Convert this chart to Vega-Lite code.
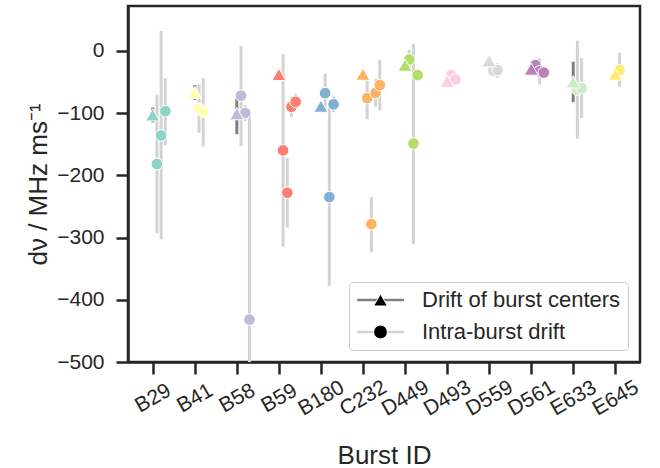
{
  "$schema": "https://vega.github.io/schema/vega-lite/v6.json",
  "width": 512,
  "height": 356,
  "autosize": {"type": "none"},
  "padding": {"left": 128, "top": 6, "right": 20, "bottom": 106},
  "background": "white",
  "config": {
    "font": "Liberation Sans",
    "view": {"stroke": "#262626", "strokeWidth": 2.5},
    "axis": {
      "domainColor": "#262626", "domainWidth": 2.5,
      "tickColor": "#262626", "tickWidth": 2.5, "tickSize": 12,
      "labelColor": "#262626", "labelFontSize": 21, "labelFont": "Liberation Sans",
      "titleColor": "#262626", "titleFontSize": 26, "titleFontWeight": "normal", "titleFont": "Liberation Sans",
      "grid": false
    }
  },
  "data": {"values": [
    {"burst": "B29", "type": "Drift of burst centers", "value": -103, "lo": -115, "hi": -91, "dodge": 0},
    {"burst": "B29", "type": "Intra-burst drift", "value": -182, "lo": -293, "hi": -71, "dodge": 0.1},
    {"burst": "B29", "type": "Intra-burst drift", "value": -136, "lo": -303, "hi": 32, "dodge": 0.2},
    {"burst": "B29", "type": "Intra-burst drift", "value": -97, "lo": -152, "hi": -44, "dodge": 0.3},
    {"burst": "B41", "type": "Drift of burst centers", "value": -67, "lo": -79, "hi": -55, "dodge": 0},
    {"burst": "B41", "type": "Intra-burst drift", "value": -93, "lo": -132, "hi": -54, "dodge": 0.1},
    {"burst": "B41", "type": "Intra-burst drift", "value": -98, "lo": -154, "hi": -44, "dodge": 0.2},
    {"burst": "B58", "type": "Drift of burst centers", "value": -101, "lo": -134, "hi": -68, "dodge": 0},
    {"burst": "B58", "type": "Intra-burst drift", "value": -72, "lo": -153, "hi": 8, "dodge": 0.1},
    {"burst": "B58", "type": "Intra-burst drift", "value": -100, "lo": -113, "hi": -87, "dodge": 0.2},
    {"burst": "B58", "type": "Intra-burst drift", "value": -432, "lo": -762, "hi": -102, "dodge": 0.3},
    {"burst": "B59", "type": "Drift of burst centers", "value": -38, "lo": -44, "hi": -32, "dodge": 0},
    {"burst": "B59", "type": "Intra-burst drift", "value": -160, "lo": -315, "hi": -5, "dodge": 0.1},
    {"burst": "B59", "type": "Intra-burst drift", "value": -228, "lo": -284, "hi": -172, "dodge": 0.2},
    {"burst": "B59", "type": "Intra-burst drift", "value": -90, "lo": -106, "hi": -74, "dodge": 0.3},
    {"burst": "B59", "type": "Intra-burst drift", "value": -82, "lo": -95, "hi": -69, "dodge": 0.4},
    {"burst": "B180", "type": "Drift of burst centers", "value": -89, "lo": -95, "hi": -83, "dodge": 0},
    {"burst": "B180", "type": "Intra-burst drift", "value": -68, "lo": -100, "hi": -37, "dodge": 0.1},
    {"burst": "B180", "type": "Intra-burst drift", "value": -235, "lo": -378, "hi": -92, "dodge": 0.2},
    {"burst": "B180", "type": "Intra-burst drift", "value": -86, "lo": -99, "hi": -73, "dodge": 0.3},
    {"burst": "C232", "type": "Drift of burst centers", "value": -37.5, "lo": -43.5, "hi": -31.5, "dodge": 0},
    {"burst": "C232", "type": "Intra-burst drift", "value": -76, "lo": -110, "hi": -46, "dodge": 0.1},
    {"burst": "C232", "type": "Intra-burst drift", "value": -278.5, "lo": -323, "hi": -235, "dodge": 0.2},
    {"burst": "C232", "type": "Intra-burst drift", "value": -67.5, "lo": -90, "hi": -45, "dodge": 0.3},
    {"burst": "C232", "type": "Intra-burst drift", "value": -55, "lo": -96, "hi": -15, "dodge": 0.4},
    {"burst": "D449", "type": "Drift of burst centers", "value": -23, "lo": -29, "hi": -17, "dodge": 0},
    {"burst": "D449", "type": "Intra-burst drift", "value": -14, "lo": -30, "hi": 2, "dodge": 0.1},
    {"burst": "D449", "type": "Intra-burst drift", "value": -149, "lo": -310, "hi": 11, "dodge": 0.2},
    {"burst": "D449", "type": "Intra-burst drift", "value": -39, "lo": -49, "hi": -29, "dodge": 0.3},
    {"burst": "D493", "type": "Drift of burst centers", "value": -48.7, "lo": -54.7, "hi": -42.7, "dodge": 0},
    {"burst": "D493", "type": "Intra-burst drift", "value": -39, "lo": -47, "hi": -31, "dodge": 0.1},
    {"burst": "D493", "type": "Intra-burst drift", "value": -46, "lo": -52, "hi": -40, "dodge": 0.2},
    {"burst": "D559", "type": "Drift of burst centers", "value": -16, "lo": -22, "hi": -10, "dodge": 0},
    {"burst": "D559", "type": "Intra-burst drift", "value": -32, "lo": -38, "hi": -26, "dodge": 0.1},
    {"burst": "D559", "type": "Intra-burst drift", "value": -31, "lo": -43, "hi": -20, "dodge": 0.2},
    {"burst": "D561", "type": "Drift of burst centers", "value": -29.4, "lo": -35, "hi": -24, "dodge": 0},
    {"burst": "D561", "type": "Intra-burst drift", "value": -23, "lo": -29, "hi": -17, "dodge": 0.1},
    {"burst": "D561", "type": "Intra-burst drift", "value": -33, "lo": -54, "hi": -12, "dodge": 0.2},
    {"burst": "D561", "type": "Intra-burst drift", "value": -35, "lo": -41, "hi": -29, "dodge": 0.3},
    {"burst": "E633", "type": "Drift of burst centers", "value": -50, "lo": -82.5, "hi": -17.5, "dodge": 0},
    {"burst": "E633", "type": "Intra-burst drift", "value": -62.6, "lo": -141, "hi": 16, "dodge": 0.1},
    {"burst": "E633", "type": "Intra-burst drift", "value": -60, "lo": -108, "hi": -12, "dodge": 0.2},
    {"burst": "E645", "type": "Drift of burst centers", "value": -37.5, "lo": -43.5, "hi": -31.5, "dodge": 0},
    {"burst": "E645", "type": "Intra-burst drift", "value": -31, "lo": -58, "hi": -3, "dodge": 0.1}
  ]},
  "encoding": {
    "x": {
      "field": "burst", "type": "nominal",
      "sort": ["B29", "B41", "B58", "B59", "B180", "C232", "D449", "D493", "D559", "D561", "E633", "E645"],
      "scale": {"type": "point", "padding": 0.588},
      "axis": {
        "title": "Burst ID", "labelAngle": -30, "labelAlign": "center", "labelBaseline": "middle",
        "labelPadding": 24, "titleBaseline": "alphabetic", "titleY": 101
      }
    },
    "xOffset": {"field": "dodge", "type": "quantitative", "scale": {"domain": [0, 1], "range": [0, 42.05]}}
  },
  "layer": [
    {
      "mark": {"type": "rule", "strokeWidth": 3, "clip": true},
      "encoding": {
        "y": {
          "field": "lo", "type": "quantitative",
          "scale": {"domain": [-500, 72], "nice": false, "zero": false},
          "axis": {"title": "dν / MHz ms⁻¹", "values": [-500, -400, -300, -200, -100, 0], "labelPadding": 12, "titleBaseline": "alphabetic", "titleX": -82}
        },
        "y2": {"field": "hi"},
        "stroke": {
          "field": "type", "type": "nominal",
          "scale": {"domain": ["Drift of burst centers", "Intra-burst drift"], "range": ["#808080", "#d3d3d3"]},
          "legend": {
            "orient": "none", "legendX": 221, "legendY": 276, "title": null,
            "symbolType": "M-3.4,0H3.4", "symbolSize": 190, "symbolStrokeWidth": 2.5, "symbolFillColor": "transparent",
            "labelFontSize": 22, "labelColor": "#262626", "labelOffset": 30.5, "symbolOffset": 13.5,
            "padding": 7, "rowPadding": 10, "labelLimit": 400,
            "fillColor": "rgba(255,255,255,0.8)", "strokeColor": "#cccccc", "cornerRadius": 4
          }
        }
      }
    },
    {
      "transform": [{"filter": "datum.type == 'Intra-burst drift'"}],
      "mark": {"type": "point", "filled": true, "size": 135, "stroke": "white", "strokeWidth": 1, "opacity": 1},
      "encoding": {
        "y": {
          "field": "value", "type": "quantitative",
          "scale": {"domain": [-500, 72], "nice": false, "zero": false},
          "axis": {"title": "dν / MHz ms⁻¹", "values": [-500, -400, -300, -200, -100, 0], "labelPadding": 12, "titleBaseline": "alphabetic", "titleX": -82}
        },
        "fill": {
          "field": "burst", "type": "nominal",
          "scale": {"domain": ["B29", "B41", "B58", "B59", "B180", "C232", "D449", "D493", "D559", "D561", "E633", "E645"],
                    "range": ["#8dd3c7", "#ffffb3", "#bebada", "#fb8072", "#80b1d3", "#fdb462", "#b3de69", "#fccde5", "#d9d9d9", "#bc80bd", "#ccebc5", "#ffed6f"]},
          "legend": null
        },
        "shape": {
          "field": "type", "type": "nominal",
          "scale": {"range": ["triangle-up", "circle"]},
          "legend": {
            "orient": "none", "legendX": 221, "legendY": 276, "title": null,
            "symbolSize": 190, "symbolFillColor": "black", "symbolStrokeColor": "white", "symbolStrokeWidth": 1,
            "labelFontSize": 22, "labelColor": "transparent", "labelOffset": 30.5, "symbolOffset": 13.5,
            "padding": 7, "rowPadding": 10, "labelLimit": 400
          }
        }
      }
    },
    {
      "transform": [{"filter": "datum.type == 'Drift of burst centers'"}],
      "mark": {"type": "point", "filled": true, "size": 200, "stroke": "white", "strokeWidth": 1, "opacity": 1},
      "encoding": {
        "y": {
          "field": "value", "type": "quantitative",
          "scale": {"domain": [-500, 72], "nice": false, "zero": false},
          "axis": {"title": "dν / MHz ms⁻¹", "values": [-500, -400, -300, -200, -100, 0], "labelPadding": 12, "titleBaseline": "alphabetic", "titleX": -82}
        },
        "fill": {
          "field": "burst", "type": "nominal",
          "scale": {"domain": ["B29", "B41", "B58", "B59", "B180", "C232", "D449", "D493", "D559", "D561", "E633", "E645"],
                    "range": ["#8dd3c7", "#ffffb3", "#bebada", "#fb8072", "#80b1d3", "#fdb462", "#b3de69", "#fccde5", "#d9d9d9", "#bc80bd", "#ccebc5", "#ffed6f"]},
          "legend": null
        },
        "shape": {
          "field": "type", "type": "nominal",
          "scale": {"range": ["triangle-up", "circle"]},
          "legend": {
            "orient": "none", "legendX": 221, "legendY": 276, "title": null,
            "symbolSize": 190, "symbolFillColor": "black", "symbolStrokeColor": "white", "symbolStrokeWidth": 1,
            "labelFontSize": 22, "labelColor": "transparent", "labelOffset": 30.5, "symbolOffset": 13.5,
            "padding": 7, "rowPadding": 10, "labelLimit": 400
          }
        }
      }
    }
  ]
}
